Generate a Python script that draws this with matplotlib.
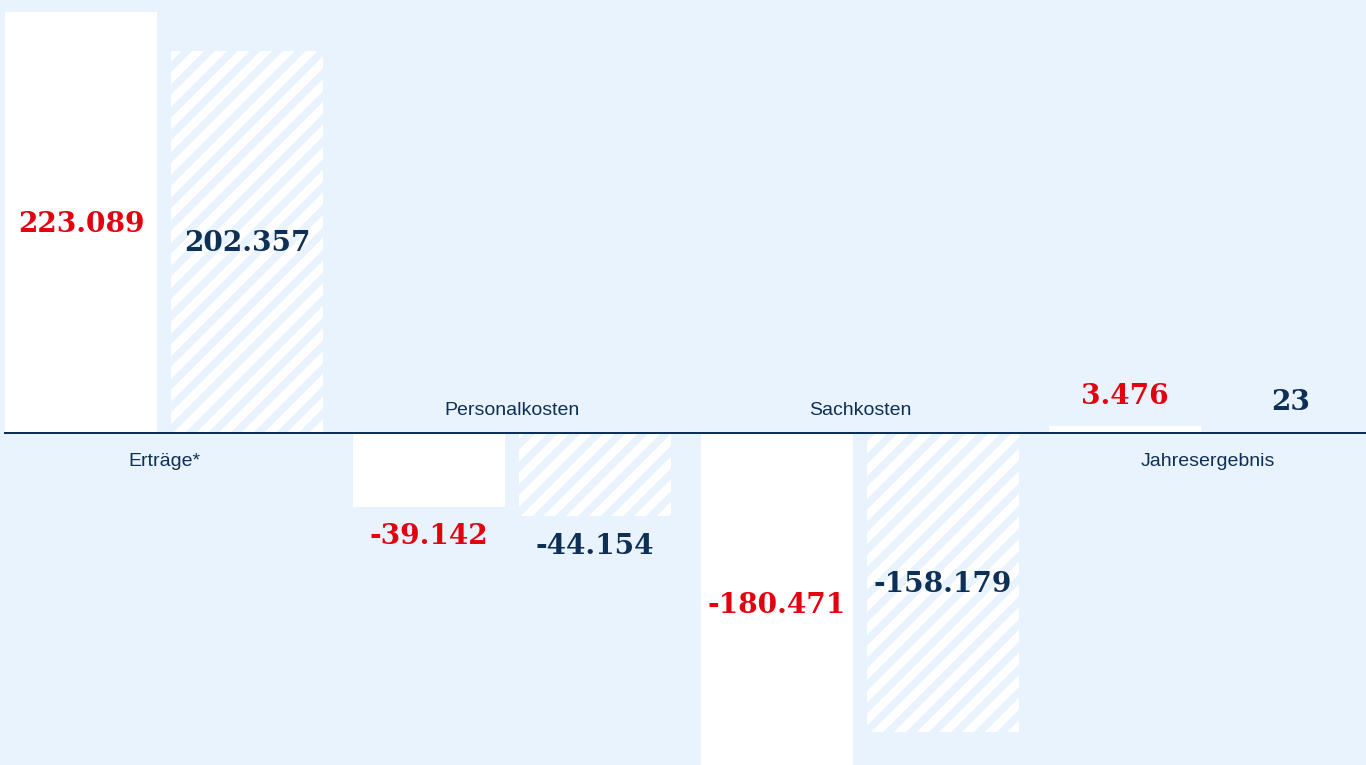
import matplotlib
matplotlib.use("Agg")
import matplotlib.pyplot as plt
import numpy as np

# ---- data (values in thousands of EUR) ----
categories = ["Erträge*", "Personalkosten", "Sachkosten", "Jahresergebnis"]
values_current = [223089, -39142, -180471, 3476]
values_previous = [202357, -44154, -158179, 23]

# ---- style ----
DPI = 136.6
W, H = 1366, 765
BG = "#e9f3fd"
NAVY = "#0e2f56"
RED = "#e3000f"
PX = 72.0 / DPI  # points per pixel

plt.rcParams["hatch.linewidth"] = 8.5 * PX
plt.rcParams["hatch.color"] = "white"

fig = plt.figure(figsize=(W / DPI, H / DPI), dpi=DPI, facecolor=BG)
ax = fig.add_axes([0, 0, 1, 1])
ax.set_facecolor(BG)
ax.axis("off")

pitch = 348.0
bar_w = 152.0 / pitch
off = (152.0 + 14.0) / 2 / pitch
x0 = 164.0 / pitch
ax.set_xlim(-x0, (W - 164.0) / pitch)
scale = 1.888 / 1000.0  # px per unit
ax.set_ylim(-(H - 433) / scale, 433 / scale)

x = np.arange(len(categories))

ax.bar(x - off, values_current, width=bar_w, color="white", linewidth=0, zorder=2)
ax.bar(x + off, values_previous, width=bar_w, color=BG, edgecolor="white",
       hatch="//", linewidth=0, zorder=2)

ax.axhline(0, xmin=5 / W, xmax=1, color=NAVY, lw=2 * PX, zorder=3)


def fmt(v):
    s = f"{abs(v):,}".replace(",", ".")
    return ("-" if v < 0 else "") + s


VAL_FS = 28 * PX


def value_label(xpos, v, color):
    if abs(v) * scale > 150:
        ax.annotate(fmt(v), (xpos, v / 2), xytext=(0, -2 * PX), textcoords="offset points",
                    ha="center", va="center", color=color, fontsize=VAL_FS,
                    fontfamily="DejaVu Serif", fontweight="bold", zorder=4)
    else:
        dy = 30 if v >= 0 else -30
        ax.annotate(fmt(v), (xpos, v), xytext=(0, dy * PX), textcoords="offset points",
                    ha="center", va="center", color=color, fontsize=VAL_FS,
                    fontfamily="DejaVu Serif", fontweight="bold", zorder=4)


for i in range(len(categories)):
    value_label(x[i] - off, values_current[i], RED)
    value_label(x[i] + off, values_previous[i], NAVY)
    positive = values_current[i] >= 0
    dy = -29 if positive else 22
    ax.annotate(categories[i], (x[i], 0), xytext=(0, dy * PX), textcoords="offset points",
                ha="center", va="center", color=NAVY, fontsize=19.5 * PX,
                fontfamily="Liberation Sans", zorder=4)

fig.savefig("out.png", dpi=DPI, facecolor=BG)
